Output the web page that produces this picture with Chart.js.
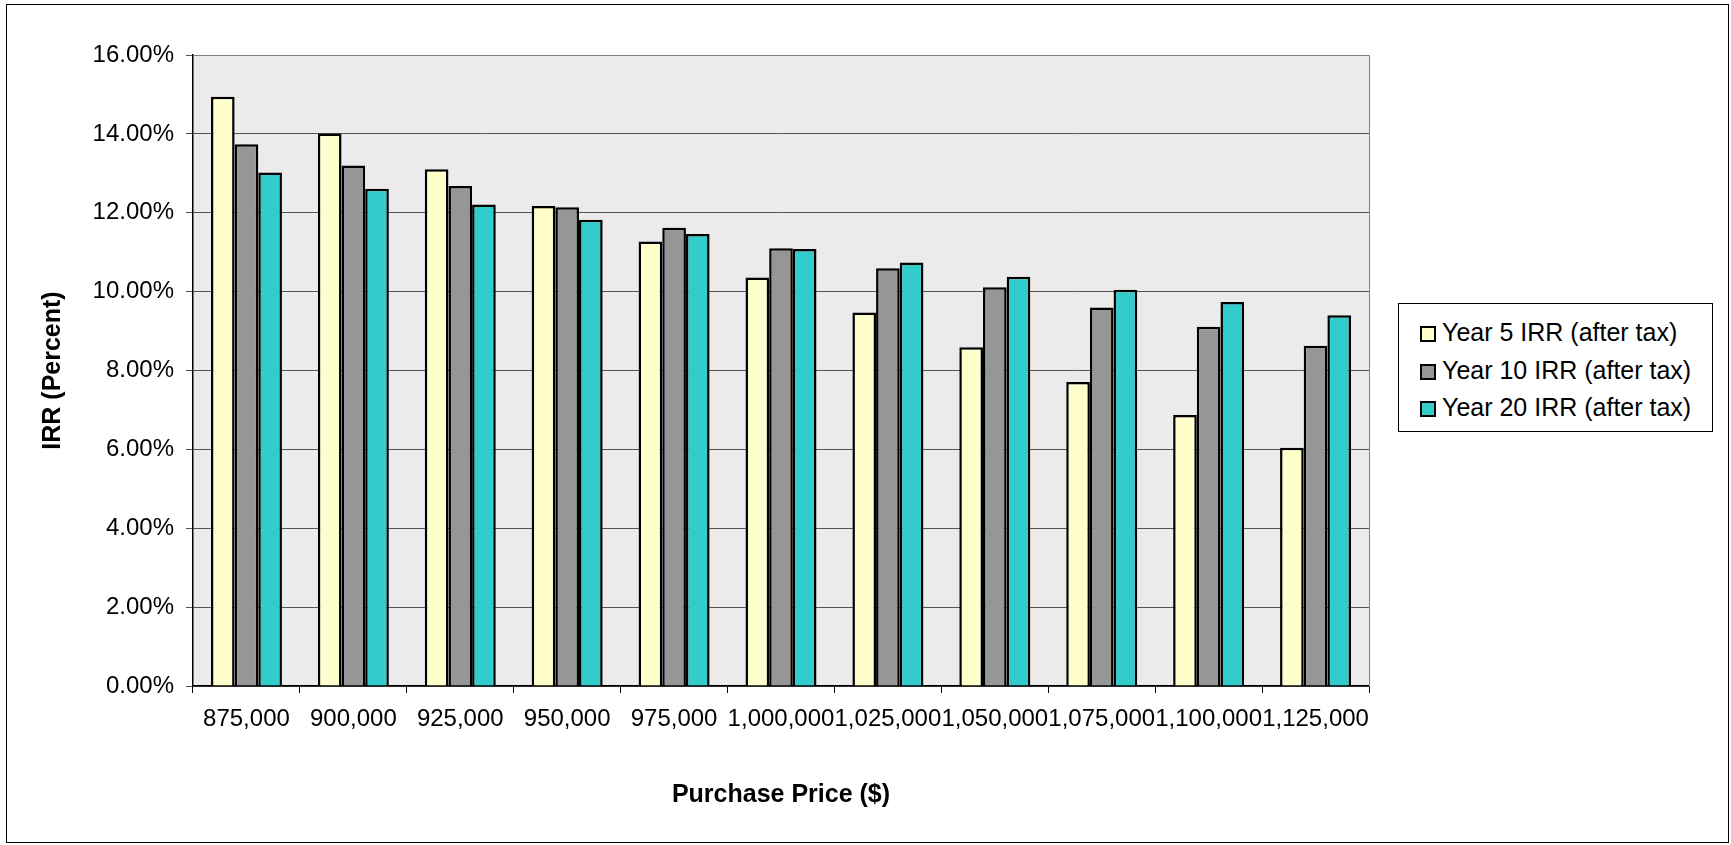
<!DOCTYPE html>
<html>
<head>
<meta charset="utf-8">
<script src="https://cdn.jsdelivr.net/npm/chart.js@4/dist/chart.umd.min.js"></script>
<style>
  body { margin: 0; background: #fff; font-family: 'Liberation Sans', Arial, sans-serif; }
  #wrap { position: relative; width: 1731px; height: 845px; }
  #frame { position: absolute; left: 6px; top: 4px; width: 1721px; height: 837px; border: 1.5px solid #000; pointer-events: none; }
  #legende { position: absolute; left: 1398px; top: 303px; width: 313px; height: 117px; border: 1px solid #000; background: #fff; padding-top: 10px; box-sizing: content-box; }
  .ligne { height: 37.5px; line-height: 37.5px; font-size: 25px; color: #000; white-space: nowrap; }
  .carre { display: inline-block; width: 12px; height: 12px; border: 2px solid #000; margin-left: 21px; margin-right: 6px; vertical-align: -1px; }
</style>
</head>
<body>
<div id="wrap">
  <canvas id="graphique" width="1731" height="845"></canvas>
  <div id="frame"></div>
  <div id="legende"></div>
</div>
<script>
// Données (IRR en %)
const prixAchat = ['875,000', '900,000', '925,000', '950,000', '975,000', '1,000,000', '1,025,000', '1,050,000', '1,075,000', '1,100,000', '1,125,000'];
const irrAn5 = [14.94, 14.01, 13.10, 12.17, 11.27, 10.36, 9.47, 8.59, 7.71, 6.87, 6.04];
const irrAn10 = [13.74, 13.20, 12.68, 12.14, 11.62, 11.10, 10.59, 10.11, 9.60, 9.11, 8.63];
const irrAn20 = [13.02, 12.61, 12.21, 11.82, 11.46, 11.08, 10.74, 10.38, 10.05, 9.74, 9.40];
const nomsSeries = ['Year 5 IRR (after tax)', 'Year 10 IRR (after tax)', 'Year 20 IRR (after tax)'];
const couleurs = ['#FFFFCC', '#969696', '#33CCCC'];

const police = "'Liberation Sans', Arial, sans-serif";

// Fond gris et cadre de la zone de tracé
const fondZone = {
    id: 'fondZone',
    beforeDraw(chart) {
        const { ctx, chartArea: a } = chart;
        ctx.save();
        ctx.fillStyle = '#EBEBEB';
        ctx.fillRect(a.left, a.top, a.right - a.left, a.bottom - a.top);
        ctx.restore();
    },
    afterDraw(chart) {
        const { ctx, chartArea: a } = chart;
        ctx.save();
        ctx.strokeStyle = '#808080';
        ctx.lineWidth = 1;
        ctx.beginPath();
        ctx.moveTo(Math.round(a.left) + 0.5, Math.round(a.top) + 0.5);
        ctx.lineTo(Math.round(a.right) + 0.5, Math.round(a.top) + 0.5);
        ctx.lineTo(Math.round(a.right) + 0.5, Math.round(a.bottom) + 0.5);
        ctx.stroke();
        ctx.restore();
    }
};

const ctx = document.getElementById('graphique').getContext('2d');
const graphique = new Chart(ctx, {
    type: 'bar',
    data: {
        labels: prixAchat,
        datasets: [irrAn5, irrAn10, irrAn20].map((valeurs, i) => ({
            label: nomsSeries[i],
            data: valeurs,
            backgroundColor: couleurs[i],
            borderColor: '#000',
            borderWidth: 2.5,
            categoryPercentage: 0.664,
            barPercentage: 1.0
        }))
    },
    options: {
        responsive: false,
        animation: false,
        layout: { padding: { left: 7, top: 55, right: 362, bottom: 2 } },
        plugins: {
            legend: { display: false },
            tooltip: { enabled: false }
        },
        scales: {
            x: {
                afterFit: (s) => { s.height = 157; },
                grid: { display: true, drawOnChartArea: false, offset: true, tickLength: 7, color: '#000' },
                border: { display: true, color: '#000', width: 1.5 },
                ticks: { autoSkip: false, maxRotation: 0, minRotation: 0, padding: 12, color: '#000', font: { family: police, size: 24 } },
                title: { display: true, text: 'Purchase Price ($)', color: '#000', padding: { top: 0, bottom: 33 }, font: { family: police, size: 25, weight: 'bold' } }
            },
            y: {
                min: 0,
                max: 16,
                afterFit: (s) => { s.width = 186; },
                grid: { color: '#555', tickLength: 7 },
                border: { display: true, color: '#000', width: 1.5 },
                ticks: { stepSize: 2, padding: 12, color: '#000', font: { family: police, size: 24 }, callback: (v) => v.toFixed(2) + '%' },
                title: { display: true, text: 'IRR (Percent)', color: '#000', padding: { top: 31, bottom: 0 }, font: { family: police, size: 25, weight: 'bold' } }
            }
        }
    },
    plugins: [fondZone]
});

// Légende en HTML
const legende = document.getElementById('legende');
nomsSeries.forEach((nom, i) => {
    const ligne = document.createElement('div');
    ligne.className = 'ligne';
    const carre = document.createElement('span');
    carre.className = 'carre';
    carre.style.background = couleurs[i];
    ligne.appendChild(carre);
    ligne.appendChild(document.createTextNode(nom));
    legende.appendChild(ligne);
});
</script>
</body>
</html>
